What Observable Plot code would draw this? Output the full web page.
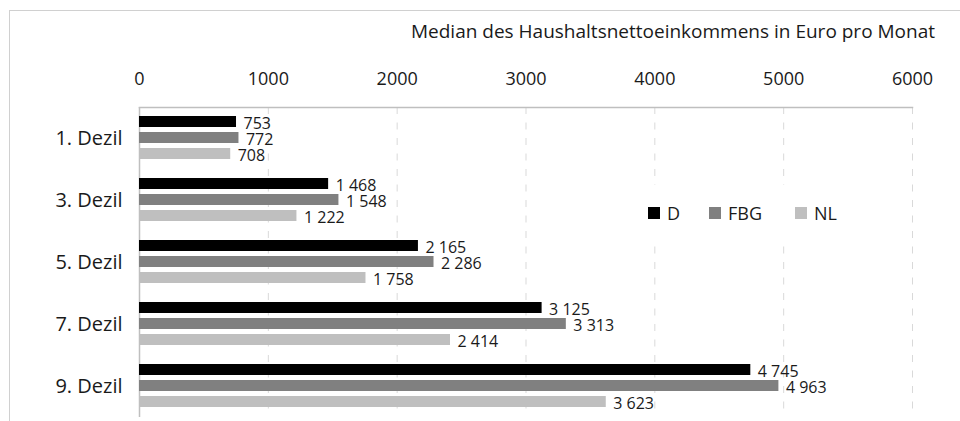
<!DOCTYPE html>
<html><head><meta charset="utf-8">
<script src="https://cdn.jsdelivr.net/npm/d3@7"></script>
<script src="https://cdn.jsdelivr.net/npm/@observablehq/plot@0.6"></script>
<style>
html,body{margin:0;padding:0;background:#fff;}
#wrap{position:relative;width:960px;height:421px;overflow:hidden;font-family:"Open Sans",sans-serif;color:#1a1a1a;}
#border{position:absolute;left:9px;top:10px;width:1000px;height:500px;border:1px solid #d0d0d0;box-sizing:border-box;}
#chart{position:absolute;left:0;top:0;}
#title{position:absolute;right:25px;top:22px;font-size:19px;line-height:19px;white-space:nowrap;}
#legend{position:absolute;left:640px;top:185px;width:205px;height:61px;background:#fff;display:grid;grid-template-columns:61px 86px auto;align-items:center;padding-left:8px;padding-bottom:5px;box-sizing:border-box;font-size:18px;}
.item{display:flex;align-items:center;}
.sw{width:12px;height:12px;margin-right:7px;flex:none;}
</style></head><body>
<div id="wrap"><div id="border"></div><div id="chart"></div><div id="title"></div><div id="legend"></div></div>
<script>
const title = "Median des Haushaltsnettoeinkommens in Euro pro Monat";
const dezile = ["1. Dezil", "3. Dezil", "5. Dezil", "7. Dezil", "9. Dezil"];
const series = ["D", "FBG", "NL"];
const valuesD = [753, 1468, 2165, 3125, 4745];
const valuesFBG = [772, 1548, 2286, 3313, 4963];
const valuesNL = [708, 1222, 1758, 2414, 3623];
const xTicks = [0, 1000, 2000, 3000, 4000, 5000, 6000];
const colors = ["#000000", "#808080", "#bfbfbf"];

const bySeries = [valuesD, valuesFBG, valuesNL];
const rows = dezile.flatMap((dz, i) => series.map((s, j) => ({dezil: dz, series: s, value: bySeries[j][i]})));
const fmt = d3.formatLocale({decimal: ",", thousands: " ", grouping: [3], currency: ["", " €"]}).format(",d");

const chart = Plot.plot({
  width: 960,
  height: 421,
  marginLeft: 139,
  marginRight: 48,
  marginTop: 107,
  marginBottom: 4,
  style: {fontFamily: "Open Sans, sans-serif", color: "#1a1a1a", background: "transparent"},
  x: {domain: [0, 6000]},
  y: {domain: series, paddingInner: 0.3, paddingOuter: 0.5, axis: null},
  fy: {domain: dezile, padding: 0},
  color: {domain: series, range: colors},
  marks: [
    Plot.gridX(xTicks, {stroke: "#d9d9d9", strokeOpacity: 1, strokeDasharray: "7,8.5"}),
    Plot.ruleX([0], {stroke: "#bfbfbf", strokeWidth: 1.5}),
    Plot.frame({anchor: "top", facetAnchor: "top", stroke: "#bfbfbf", strokeWidth: 1.5}),
    Plot.barX(rows, {x: "value", y: "series", fy: "dezil", fill: "series"}),
    Plot.text(rows, {x: "value", y: "series", fy: "dezil", text: d => fmt(d.value), textAnchor: "start", dx: 7, dy: 2, fontSize: 16, fill: "#1a1a1a"}),
    Plot.axisX({anchor: "top", ticks: xTicks, tickSize: 0, tickPadding: 23, fontSize: 18, label: null, tickFormat: d => String(d)}),
    Plot.axisFy({anchor: "left", tickSize: 0, tickPadding: 17, fontSize: 20, label: null})
  ]
});
document.getElementById("chart").append(chart);
document.getElementById("title").textContent = title;

const legend = document.getElementById("legend");
series.forEach((s, i) => {
  const item = document.createElement("div");
  item.className = "item";
  const sw = document.createElement("span");
  sw.className = "sw";
  sw.style.background = chart.scale("color").apply(s);
  const lab = document.createElement("span");
  lab.textContent = s;
  item.append(sw, lab);
  legend.append(item);
});
</script>
</body></html>
